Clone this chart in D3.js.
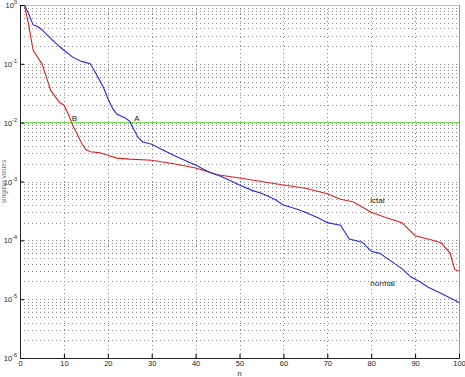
<!DOCTYPE html>
<html><head><meta charset="utf-8">
<script src="https://cdn.jsdelivr.net/npm/d3@7"></script>
<style>body{margin:0;background:#fff}svg{display:block}text{font-family:"Liberation Sans",Arial,sans-serif;fill:#222}</style>
</head><body><svg id="c" width="465" height="377"></svg>
<script>
const redN = [1,2,3,4,5,6,7,8,9,10,11,12,13,14,15,16,18,20,22,25,30,35,40,43,45,50,55,60,65,70,73,76,80,83,87,90,94,96,98,99,100];
const redV = [1.0,0.45,0.17,0.13,0.1,0.06,0.035,0.028,0.022,0.02,0.014,0.009,0.0065,0.0045,0.0035,0.0032,0.0031,0.0028,0.0025,0.0024,0.0023,0.002,0.0017,0.00145,0.0013,0.00115,0.001,0.00087,0.00077,0.00062,0.0005,0.00045,0.0003,0.00025,0.0002,0.00012,0.0001,0.00009,0.00006,0.000032,0.00003];
const blueN = [1,2,3,4,5,6,7,8,10,12,14,16,17,18,19,20,21,22,24,25,26,27,28,30,32,35,38,40,43,46,50,53,55,58,60,63,65,68,70,73,75,78,80,82,84,87,89,91,93,96,98,100];
const blueV = [1.0,0.7,0.46,0.43,0.38,0.32,0.27,0.23,0.17,0.13,0.11,0.1,0.075,0.055,0.04,0.026,0.018,0.014,0.012,0.0105,0.0075,0.0055,0.0047,0.0043,0.0036,0.0028,0.0022,0.0019,0.00145,0.0012,0.00087,0.0007,0.00063,0.0005,0.0004,0.00034,0.0003,0.00024,0.0002,0.00018,0.000105,0.000093,0.000065,0.00006,0.000047,0.000033,0.000024,0.00002,0.000016,0.0000125,0.0000105,0.0000088];
const thresholdV = 0.01;
const xTicks = [0,10,20,30,40,50,60,70,80,90,100];
const yExps = [0,-1,-2,-3,-4,-5,-6];
const labels = [{t:"B",n:11.8,v:0.0107},{t:"A",n:26,v:0.0107},{t:"ictal",n:79.8,v:0.00043},{t:"normal",n:79.8,v:0.0000167}];
const xLabel = "n", yLabel = "singular values";

const svg = d3.select("#c");
const L=20,R=459,T=5,B=358;
const x = d3.scaleLinear().domain([0,100]).range([L,R]);
const y = d3.scaleLog().domain([1e-6,1]).range([B,T]);

// grid
const minor = [];
for (let e=-6;e<0;e++) for (let m=1;m<10;m++) minor.push(m*Math.pow(10,e));
minor.push(1);
const g = svg.append("g");
g.selectAll("line.h").data(minor).join("line")
  .attr("x1",L).attr("x2",R).attr("y1",d=>Math.round(y(d))+0.5).attr("y2",d=>Math.round(y(d))+0.5)
  .attr("stroke","#8a8a8a").attr("stroke-width",1).attr("stroke-dasharray","1,3");
g.selectAll("line.v").data(xTicks).join("line")
  .attr("y1",T).attr("y2",B).attr("x1",d=>Math.round(x(d))+0.5).attr("x2",d=>Math.round(x(d))+0.5)
  .attr("stroke","#8a8a8a").attr("stroke-width",1).attr("stroke-dasharray","1,3");

// box
svg.append("line").attr("x1",L).attr("x2",R).attr("y1",T+0.5).attr("y2",T+0.5).attr("stroke","#bbb");
svg.append("line").attr("x1",R+0.5).attr("x2",R+0.5).attr("y1",T).attr("y2",B).attr("stroke","#999");

// threshold
svg.append("line").attr("x1",L).attr("x2",R).attr("y1",y(thresholdV)).attr("y2",y(thresholdV))
  .attr("stroke","#66dd44").attr("stroke-width",1);

const line = d3.line().x(d=>x(d[0])).y(d=>y(d[1]));
svg.append("path").datum(d3.zip(redN,redV)).attr("d",line).attr("fill","none").attr("stroke","#e02020").attr("stroke-width",1.1);
svg.append("path").datum(d3.zip(blueN,blueV)).attr("d",line).attr("fill","none").attr("stroke","#2828e0").attr("stroke-width",1.1);

// axes
const xa = svg.append("g").attr("transform",`translate(0,${B})`)
  .call(d3.axisBottom(x).tickValues(xTicks).tickSize(-4).tickPadding(3).tickFormat(d3.format("d")));
xa.select(".domain").attr("stroke","#222");
xa.selectAll("text").attr("font-size",7.5);
const ya = svg.append("g").attr("transform",`translate(${L},0)`)
  .call(d3.axisLeft(y).tickValues(yExps.map(e=>Math.pow(10,e))).tickSize(-4).tickFormat(""));
ya.select(".domain").attr("stroke","#222");
yExps.forEach(e=>{
  const t = svg.append("text").attr("x",L-3).attr("y",y(Math.pow(10,e))+3).attr("text-anchor","end").attr("font-size",7.5);
  t.append("tspan").text("10");
  t.append("tspan").attr("dy",-4).attr("font-size",5.5).text(e);
});
svg.append("text").attr("x",x(50)).attr("y",376).attr("text-anchor","middle").attr("font-size",7.5).text(xLabel);
svg.append("text").attr("transform",`translate(6,${(T+B)/2}) rotate(-90)`).attr("text-anchor","middle").attr("font-size",6.5).attr("fill","#777").style("fill","#777").text(yLabel);

svg.selectAll("text.lab").data(labels).join("text").attr("class","lab")
  .attr("x",d=>x(d.n)).attr("y",d=>y(d.v)).attr("font-size",8).text(d=>d.t);
</script></body></html>
